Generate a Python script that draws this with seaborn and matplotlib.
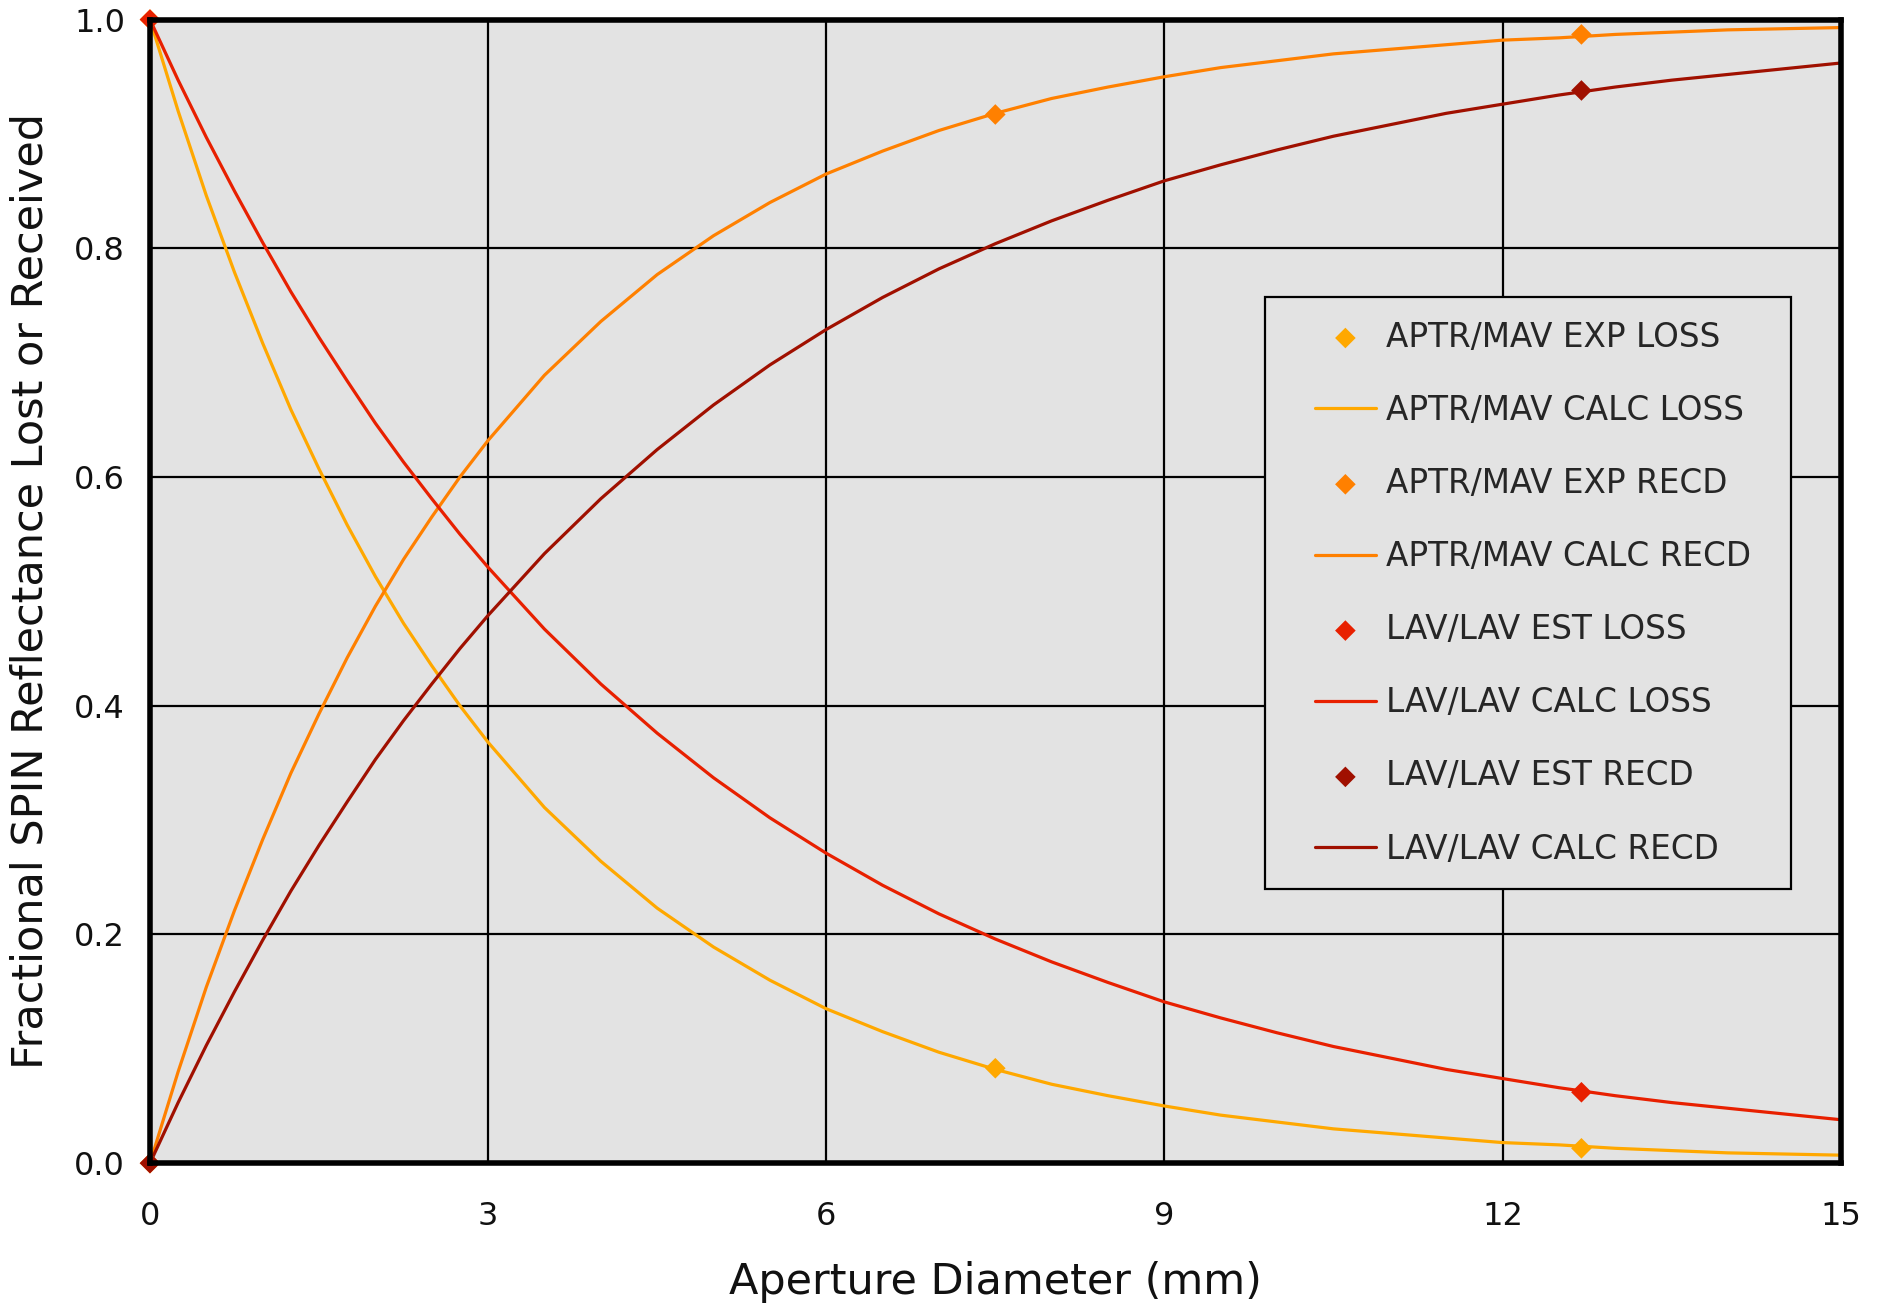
import matplotlib
matplotlib.use("Agg")
import matplotlib.pyplot as plt
from matplotlib.patches import Rectangle
import seaborn as sns
import pandas as pd

# ---- data ----
x_calc = [0.0, 0.25, 0.5, 0.75, 1.0, 1.25, 1.5, 1.75, 2.0, 2.25, 2.5, 2.75, 3.0, 3.5, 4.0, 4.5,
          5.0, 5.5, 6.0, 6.5, 7.0, 7.5, 8.0, 8.5, 9.0, 9.5, 10.0, 10.5, 11.0, 11.5, 12.0,
          12.5, 13.0, 13.5, 14.0, 14.5, 15.0]
aptr_calc_loss = [1.0, 0.920, 0.846, 0.779, 0.717, 0.659, 0.607, 0.558, 0.513, 0.472, 0.435,
                  0.400, 0.368, 0.311, 0.264, 0.223, 0.189, 0.160, 0.135, 0.115, 0.097, 0.082,
                  0.069, 0.059, 0.050, 0.042, 0.036, 0.030, 0.026, 0.022, 0.018, 0.016, 0.013,
                  0.011, 0.009, 0.008, 0.007]
aptr_calc_recd = [0.0, 0.080, 0.154, 0.221, 0.283, 0.341, 0.393, 0.442, 0.487, 0.528, 0.565,
                  0.600, 0.632, 0.689, 0.736, 0.777, 0.811, 0.840, 0.865, 0.885, 0.903, 0.918,
                  0.931, 0.941, 0.950, 0.958, 0.964, 0.970, 0.974, 0.978, 0.982, 0.984, 0.987,
                  0.989, 0.991, 0.992, 0.993]
lav_calc_loss = [1.0, 0.947, 0.897, 0.850, 0.805, 0.762, 0.722, 0.684, 0.647, 0.613, 0.581,
                 0.550, 0.521, 0.467, 0.419, 0.376, 0.337, 0.302, 0.271, 0.243, 0.218, 0.196,
                 0.176, 0.158, 0.141, 0.127, 0.114, 0.102, 0.092, 0.082, 0.074, 0.066, 0.059,
                 0.053, 0.048, 0.043, 0.038]
lav_calc_recd = [0.0, 0.053, 0.103, 0.150, 0.195, 0.238, 0.278, 0.316, 0.353, 0.387, 0.419,
                 0.450, 0.479, 0.533, 0.581, 0.624, 0.663, 0.698, 0.729, 0.757, 0.782, 0.804,
                 0.824, 0.842, 0.859, 0.873, 0.886, 0.898, 0.908, 0.918, 0.926, 0.934, 0.941,
                 0.947, 0.952, 0.957, 0.962]

x_exp = [0.0, 7.5, 12.7]
aptr_exp_loss = [1.0, 0.083, 0.013]
aptr_exp_recd = [0.0, 0.917, 0.987]
x_est = [0.0, 12.7]
lav_est_loss = [1.0, 0.062]
lav_est_recd = [0.0, 0.938]

labels = ["APTR/MAV EXP LOSS", "APTR/MAV CALC LOSS", "APTR/MAV EXP RECD", "APTR/MAV CALC RECD",
          "LAV/LAV EST LOSS", "LAV/LAV CALC LOSS", "LAV/LAV EST RECD", "LAV/LAV CALC RECD"]
colors = ["#FFA800", "#FFA800", "#FF8000", "#FF8000", "#E82000", "#E82000", "#A01000", "#A01000"]

x_ticks = [0, 3, 6, 9, 12, 15]
y_ticks = [0.0, 0.2, 0.4, 0.6, 0.8, 1.0]

sns.set_theme(style="white")
plt.rcParams["font.family"] = ["DejaVu Sans"]

fig = plt.figure(figsize=(18.84, 13.04), dpi=100)
ax = fig.add_axes([0.0796, 0.108, 0.8974, 0.877])
ax.set_facecolor("#E3E3E3")

series = [
    ("pts", x_exp, aptr_exp_loss),
    ("line", x_calc, aptr_calc_loss),
    ("pts", x_exp, aptr_exp_recd),
    ("line", x_calc, aptr_calc_recd),
    ("pts", x_est, lav_est_loss),
    ("line", x_calc, lav_calc_loss),
    ("pts", x_est, lav_est_recd),
    ("line", x_calc, lav_calc_recd),
]

for (kind, xs, ys), lab, col in zip(series, labels, colors):
    if kind == "line":
        df = pd.DataFrame({"x": xs, "y": ys})
        sns.lineplot(data=df, x="x", y="y", ax=ax, color=col, lw=2.3, label=lab, zorder=3)
for (kind, xs, ys), lab, col in zip(series, labels, colors):
    if kind == "pts":
        df = pd.DataFrame({"x": xs, "y": ys})
        sns.scatterplot(data=df, x="x", y="y", ax=ax, color=col, marker="D", s=110,
                        edgecolor="none", label=lab, zorder=4, clip_on=False)

ax.set_xlim(0, 15)
ax.set_ylim(0, 1)
ax.set_xticks(x_ticks)
ax.set_xticklabels([str(t) for t in x_ticks])
ax.set_yticks(y_ticks)
ax.set_yticklabels([f"{t:.1f}" for t in y_ticks])
ax.grid(True, color="black", lw=1.6, zorder=1)
ax.set_axisbelow(True)
for sp in ax.spines.values():
    sp.set_color("black")
    sp.set_linewidth(4.0)
    sp.set_zorder(5)
ax.tick_params(length=0, labelsize=23, colors="#111111")
ax.tick_params(axis="x", pad=27)
ax.tick_params(axis="y", pad=18)
ax.set_xlabel("Aperture Diameter (mm)", fontsize=31, labelpad=21, color="#111111")
ax.set_ylabel("Fractional SPIN Reflectance Lost or Received", fontsize=31, labelpad=16, color="#111111")

# legend box
box = Rectangle((0.6596, 0.2397), 0.9709 - 0.6596, 0.757 - 0.2397, transform=ax.transAxes,
                facecolor="#E3E3E3", edgecolor="black", lw=1.6, zorder=6)
ax.add_patch(box)

h, l = ax.get_legend_handles_labels()
hmap = dict(zip(l, h))
leg = ax.legend([hmap[k] for k in labels], labels, loc="center left",
                bbox_to_anchor=(0.689, 0.4985), fontsize=23.5, frameon=False,
                labelspacing=1.23, handlelength=1.87, handletextpad=0.3,
                borderpad=0, borderaxespad=0)
leg.set_zorder(7)

fig.savefig("out.png", dpi=100, facecolor="white")
